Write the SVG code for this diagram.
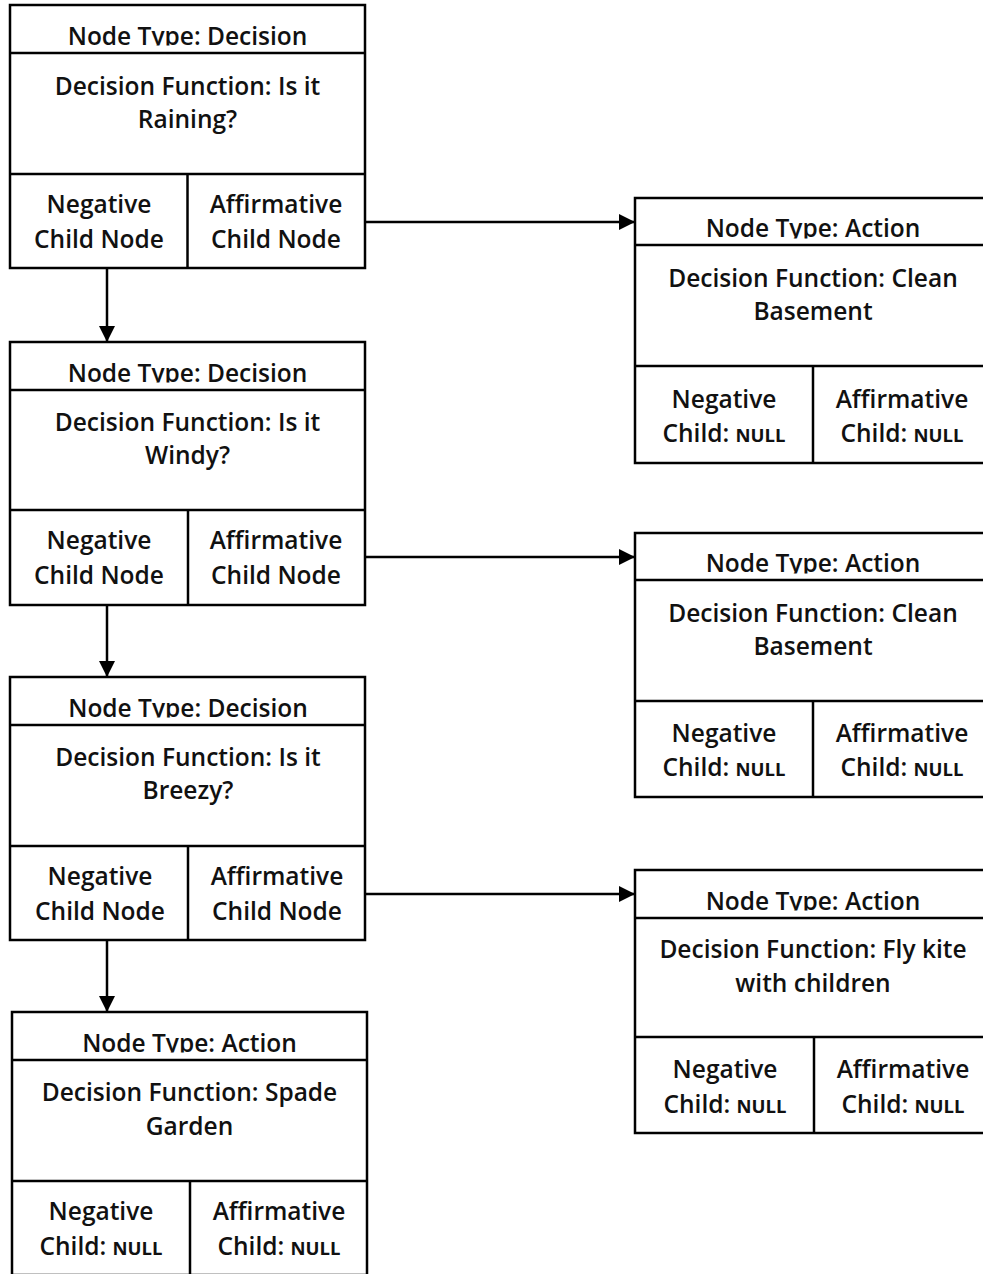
<svg xmlns="http://www.w3.org/2000/svg" width="983" height="1274" viewBox="0 0 983 1274">
  <defs>
    <style>
      .box { fill: #ffffff; stroke: #000000; stroke-width: 2.5; }
      .sep { stroke: #000000; stroke-width: 2.5; fill: none; }
      .lbl { font-family: "Open Sans", "Liberation Sans", sans-serif; font-size: 24.5px; font-weight: 600; fill: #111111; text-anchor: middle; }
      .nul { font-size: 18.5px; font-weight: 700; }
      .edge { stroke: #000000; stroke-width: 2.5; fill: none; marker-end: url(#head); }
    </style>
    <marker id="head" markerUnits="userSpaceOnUse" markerWidth="17" markerHeight="16" refX="16" refY="8" orient="auto">
      <path d="M0,0 L16,8 L0,16 z" fill="#000000"/>
    </marker>
    <!-- the header row cuts its caption off at the baseline -->
    <clipPath id="title-clip" clipPathUnits="userSpaceOnUse">
      <rect x="0" y="0" width="356" height="40.5"/>
    </clipPath>
  </defs>
  <rect width="983" height="1274" fill="#ffffff"/>

  <!-- connectors -->
  <g id="connectors">
    <line class="edge" x1="107" y1="268" x2="107" y2="342"/>
    <line class="edge" x1="107" y1="605" x2="107" y2="677"/>
    <line class="edge" x1="107" y1="940" x2="107" y2="1012"/>
    <line class="edge" x1="365" y1="222" x2="635" y2="222"/>
    <line class="edge" x1="365" y1="557" x2="635" y2="557"/>
    <line class="edge" x1="365" y1="894" x2="635" y2="894"/>
  </g>

  <!-- decision: raining -->
  <g id="node-raining" transform="translate(10,5)">
    <rect class="box" x="0" y="0" width="355" height="263"/>
    <line class="sep" x1="0" y1="48" x2="355" y2="48"/>
    <line class="sep" x1="0" y1="169" x2="355" y2="169"/>
    <line class="sep" x1="177.5" y1="169" x2="177.5" y2="263"/>
    <text class="lbl" x="177.5" y="40" clip-path="url(#title-clip)">Node Type: Decision</text>
    <text class="lbl" x="177.5" y="90">Decision Function: Is it</text>
    <text class="lbl" x="177.5" y="123">Raining?</text>
    <text class="lbl" x="89" y="208">Negative</text>
    <text class="lbl" x="89" y="243">Child Node</text>
    <text class="lbl" x="266" y="208">Affirmative</text>
    <text class="lbl" x="266" y="243">Child Node</text>
  </g>

  <!-- decision: windy -->
  <g id="node-windy" transform="translate(10,342)">
    <rect class="box" x="0" y="0" width="355" height="263"/>
    <line class="sep" x1="0" y1="48" x2="355" y2="48"/>
    <line class="sep" x1="0" y1="168" x2="355" y2="168"/>
    <line class="sep" x1="178" y1="168" x2="178" y2="263"/>
    <text class="lbl" x="177.5" y="40" clip-path="url(#title-clip)">Node Type: Decision</text>
    <text class="lbl" x="177.5" y="89">Decision Function: Is it</text>
    <text class="lbl" x="177.5" y="122">Windy?</text>
    <text class="lbl" x="89" y="207">Negative</text>
    <text class="lbl" x="89" y="242">Child Node</text>
    <text class="lbl" x="266" y="207">Affirmative</text>
    <text class="lbl" x="266" y="242">Child Node</text>
  </g>

  <!-- decision: breezy -->
  <g id="node-breezy" transform="translate(10,677)">
    <rect class="box" x="0" y="0" width="355" height="263"/>
    <line class="sep" x1="0" y1="48" x2="355" y2="48"/>
    <line class="sep" x1="0" y1="169" x2="355" y2="169"/>
    <line class="sep" x1="178" y1="169" x2="178" y2="263"/>
    <text class="lbl" x="178" y="40" clip-path="url(#title-clip)">Node Type: Decision</text>
    <text class="lbl" x="178" y="89">Decision Function: Is it</text>
    <text class="lbl" x="178" y="122">Breezy?</text>
    <text class="lbl" x="90" y="208">Negative</text>
    <text class="lbl" x="90" y="243">Child Node</text>
    <text class="lbl" x="267" y="208">Affirmative</text>
    <text class="lbl" x="267" y="243">Child Node</text>
  </g>

  <!-- action: spade garden -->
  <g id="node-spade" transform="translate(12,1012)">
    <rect class="box" x="0" y="0" width="355" height="263"/>
    <line class="sep" x1="0" y1="48" x2="355" y2="48"/>
    <line class="sep" x1="0" y1="169" x2="355" y2="169"/>
    <line class="sep" x1="178" y1="169" x2="178" y2="263"/>
    <text class="lbl" x="177.5" y="40" clip-path="url(#title-clip)">Node Type: Action</text>
    <text class="lbl" x="177.5" y="89">Decision Function: Spade</text>
    <text class="lbl" x="177.5" y="123">Garden</text>
    <text class="lbl" x="89" y="208">Negative</text>
    <text class="lbl" x="89" y="243">Child: <tspan class="nul">NULL</tspan></text>
    <text class="lbl" x="267" y="208">Affirmative</text>
    <text class="lbl" x="267" y="243">Child: <tspan class="nul">NULL</tspan></text>
  </g>

  <!-- action: clean basement (rain) -->
  <g id="node-clean-1" transform="translate(635,198)">
    <rect class="box" x="0" y="0" width="356" height="265"/>
    <line class="sep" x1="0" y1="47" x2="356" y2="47"/>
    <line class="sep" x1="0" y1="168" x2="356" y2="168"/>
    <line class="sep" x1="178" y1="168" x2="178" y2="265"/>
    <text class="lbl" x="178" y="39" clip-path="url(#title-clip)">Node Type: Action</text>
    <text class="lbl" x="178" y="89">Decision Function: Clean</text>
    <text class="lbl" x="178" y="122">Basement</text>
    <text class="lbl" x="89" y="210">Negative</text>
    <text class="lbl" x="89" y="244">Child: <tspan class="nul">NULL</tspan></text>
    <text class="lbl" x="267" y="210">Affirmative</text>
    <text class="lbl" x="267" y="244">Child: <tspan class="nul">NULL</tspan></text>
  </g>

  <!-- action: clean basement (wind) -->
  <g id="node-clean-2" transform="translate(635,533)">
    <rect class="box" x="0" y="0" width="356" height="264"/>
    <line class="sep" x1="0" y1="47" x2="356" y2="47"/>
    <line class="sep" x1="0" y1="168" x2="356" y2="168"/>
    <line class="sep" x1="178" y1="168" x2="178" y2="264"/>
    <text class="lbl" x="178" y="39" clip-path="url(#title-clip)">Node Type: Action</text>
    <text class="lbl" x="178" y="89">Decision Function: Clean</text>
    <text class="lbl" x="178" y="122">Basement</text>
    <text class="lbl" x="89" y="209">Negative</text>
    <text class="lbl" x="89" y="243">Child: <tspan class="nul">NULL</tspan></text>
    <text class="lbl" x="267" y="209">Affirmative</text>
    <text class="lbl" x="267" y="243">Child: <tspan class="nul">NULL</tspan></text>
  </g>

  <!-- action: fly kite -->
  <g id="node-kite" transform="translate(635,870)">
    <rect class="box" x="0" y="0" width="356" height="263"/>
    <line class="sep" x1="0" y1="48" x2="356" y2="48"/>
    <line class="sep" x1="0" y1="167" x2="356" y2="167"/>
    <line class="sep" x1="179" y1="167" x2="179" y2="263"/>
    <text class="lbl" x="178" y="40" clip-path="url(#title-clip)">Node Type: Action</text>
    <text class="lbl" x="178" y="88">Decision Function: Fly kite</text>
    <text class="lbl" x="178" y="122">with children</text>
    <text class="lbl" x="90" y="208">Negative</text>
    <text class="lbl" x="90" y="243">Child: <tspan class="nul">NULL</tspan></text>
    <text class="lbl" x="268" y="208">Affirmative</text>
    <text class="lbl" x="268" y="243">Child: <tspan class="nul">NULL</tspan></text>
  </g>
</svg>
